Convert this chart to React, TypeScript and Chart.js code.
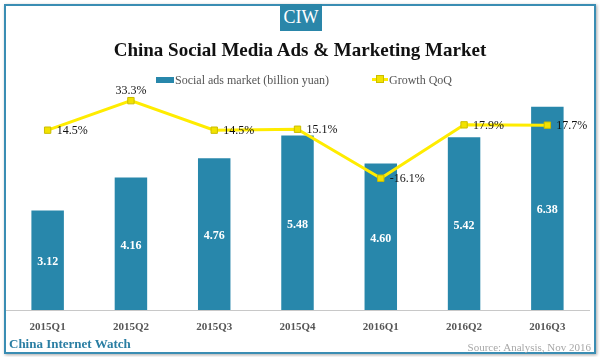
import React, { useEffect, useRef } from "react";
import { Chart, registerables } from "chart.js";

Chart.register(...registerables);

const categories = ["2015Q1", "2015Q2", "2015Q3", "2015Q4", "2016Q1", "2016Q2", "2016Q3"];
const adsMarket = [3.12, 4.16, 4.76, 5.48, 4.6, 5.42, 6.38];
const growthQoQ = [14.5, 33.3, 14.5, 15.1, -16.1, 17.9, 17.7];

const TEAL = "#2887ab";
const YELLOW = "#ffec00";
const SERIF = "'Liberation Serif', 'DejaVu Serif', serif";

const labelPlugin = {
  id: "valueLabels",
  afterDatasetsDraw(chart: any) {
    const ctx = chart.ctx;
    ctx.save();
    const barMeta = chart.getDatasetMeta(0);
    ctx.font = `bold 12px ${SERIF}`;
    ctx.fillStyle = "#ffffff";
    ctx.textAlign = "center";
    ctx.textBaseline = "middle";
    barMeta.data.forEach((bar: any, i: number) => {
      const p = bar.getProps(["x", "y", "base"], true);
      ctx.fillText(adsMarket[i].toFixed(2), p.x, (p.y + p.base) / 2 + 2);
    });
    const lineMeta = chart.getDatasetMeta(1);
    ctx.font = `12px ${SERIF}`;
    ctx.fillStyle = "#111111";
    lineMeta.data.forEach((pt: any, i: number) => {
      const v = growthQoQ[i];
      const txt = `${v.toFixed(1)}%`;
      const prev = i > 0 ? growthQoQ[i - 1] : Infinity;
      const next = i < growthQoQ.length - 1 ? growthQoQ[i + 1] : Infinity;
      if (v - Math.max(prev, next) > 5) {
        ctx.textAlign = "center";
        ctx.textBaseline = "bottom";
        ctx.fillText(txt, pt.x, pt.y - 4);
      } else {
        ctx.textAlign = "left";
        ctx.textBaseline = "middle";
        ctx.fillText(txt, pt.x + 9, pt.y + 1);
      }
    });
    ctx.restore();
  },
};

export default function App() {
  const canvasRef = useRef<HTMLCanvasElement | null>(null);

  useEffect(() => {
    if (!canvasRef.current) return;
    const chart = new Chart(canvasRef.current, {
      type: "bar",
      data: {
        labels: categories,
        datasets: [
          {
            type: "bar",
            label: "Social ads market (billion yuan)",
            data: adsMarket,
            backgroundColor: TEAL,
            borderWidth: 0,
            barPercentage: 0.39,
            categoryPercentage: 1,
            yAxisID: "y",
            order: 2,
          },
          {
            type: "line",
            label: "Growth QoQ",
            data: growthQoQ,
            borderColor: YELLOW,
            borderWidth: 3,
            backgroundColor: "#f2e200",
            pointStyle: "rect",
            pointRadius: 4.5,
            pointBorderColor: "#cbbd00",
            pointBorderWidth: 1,
            tension: 0,
            yAxisID: "y1",
            order: 1,
          },
        ],
      },
      options: {
        responsive: false,
        animation: false,
        layout: { padding: { left: 6, right: 11, top: 87, bottom: 0 } },
        plugins: {
          legend: { display: false },
          title: { display: false },
          tooltip: { enabled: false },
        },
        scales: {
          x: {
            grid: { display: false },
            border: { display: true, color: "#c8c8c8", width: 1 },
            ticks: {
              color: "#555555",
              font: { family: SERIF, size: 11, weight: "bold" },
              padding: 3,
            },
            afterFit: (scale: any) => {
              scale.height = 47;
            },
          },
          y: { display: false, min: 0, max: 7 },
          y1: { display: false, min: -100, max: 42, position: "right" },
        },
      },
      plugins: [labelPlugin],
    } as any);
    return () => chart.destroy();
  }, []);

  return (
    <div
      style={{
        position: "absolute",
        left: 0,
        top: 0,
        width: 600,
        height: 357,
        background: "#ffffff",
        fontFamily: SERIF,
        overflow: "hidden",
      }}
    >
      <div
        style={{
          position: "absolute",
          left: 4,
          top: 4,
          width: 588,
          height: 346,
          border: "2px solid #3a8db3",
          boxShadow: "1px 1px 3px rgba(0,0,0,0.35)",
        }}
      />
      <canvas ref={canvasRef} width={600} height={357} style={{ position: "absolute", left: 0, top: 0 }} />
      <div
        style={{
          position: "absolute",
          left: 280,
          top: 4,
          width: 42,
          height: 27,
          background: "#2a86a9",
          color: "#ffffff",
          fontSize: 18,
          lineHeight: "27px",
          textAlign: "center",
        }}
      >
        CIW
      </div>
      <div
        style={{
          position: "absolute",
          left: 0,
          top: 37,
          width: 600,
          textAlign: "center",
          fontSize: 19,
          fontWeight: "bold",
          color: "#111111",
          lineHeight: "26px",
        }}
      >
        China Social Media Ads &amp; Marketing Market
      </div>
      <div style={{ position: "absolute", left: 156, top: 77, width: 18, height: 6, background: TEAL }} />
      <div
        style={{
          position: "absolute",
          left: 175,
          top: 72,
          fontSize: 12,
          color: "#555555",
          lineHeight: "16px",
          whiteSpace: "nowrap",
        }}
      >
        Social ads market (billion yuan)
      </div>
      <div style={{ position: "absolute", left: 372, top: 78, width: 16, height: 3, background: YELLOW }} />
      <div
        style={{
          position: "absolute",
          left: 376,
          top: 75,
          width: 8,
          height: 8,
          background: "#f2e200",
          border: "1px solid #cbbd00",
          boxSizing: "border-box",
        }}
      />
      <div
        style={{
          position: "absolute",
          left: 389,
          top: 72,
          fontSize: 12,
          color: "#555555",
          lineHeight: "16px",
          whiteSpace: "nowrap",
        }}
      >
        Growth QoQ
      </div>
      <div
        style={{
          position: "absolute",
          left: 9,
          top: 336,
          fontSize: 13,
          fontWeight: "bold",
          color: "#2a7ea3",
          lineHeight: "16px",
          whiteSpace: "nowrap",
        }}
      >
        China Internet Watch
      </div>
      <div
        style={{
          position: "absolute",
          right: 9,
          top: 340,
          fontSize: 11,
          color: "#a8a8a8",
          lineHeight: "14px",
          whiteSpace: "nowrap",
        }}
      >
        Source: Analysis, Nov 2016
      </div>
    </div>
  );
}
